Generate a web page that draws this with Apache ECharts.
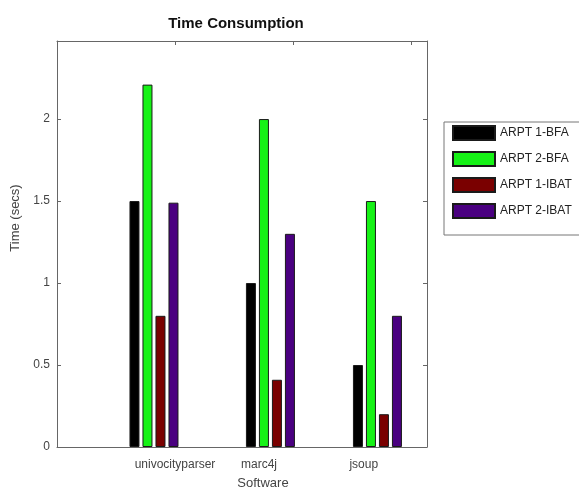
<!DOCTYPE html>
<html>
<head>
<meta charset="utf-8">
<script src="https://cdn.jsdelivr.net/npm/echarts@6/dist/echarts.min.js"></script>
<style>html,body{margin:0;padding:0;background:#fff}#c{width:579px;height:493px}</style>
</head>
<body>
<div id="c"></div>
<script>
const categories = ['univocityparser', 'marc4j', 'jsoup'];
const groupX = [0.822, 1.809, 2.716];
const labelX = [1.0, 1.712, 2.6];
const topTicks = [1, 2, 3];
const seriesNames = ['ARPT 1-BFA', 'ARPT 2-BFA', 'ARPT 1-IBAT', 'ARPT 2-IBAT'];
const arpt1BFA = [1.5, 1.0, 0.5];
const arpt2BFA = [2.21, 2.0, 1.5];
const arpt1IBAT = [0.8, 0.41, 0.2];
const arpt2IBAT = [1.49, 1.3, 0.8];
const yTickLabels = ['0', '0.5', '1', '1.5', '2'];

const values = [arpt1BFA, arpt2BFA, arpt1IBAT, arpt2IBAT];
const colors = ['#000000', '#16f216', '#7a0000', '#4a0080'];
const font = 'Liberation Sans, Arial, sans-serif';
const axisCol = '#666';

const chart = echarts.init(document.getElementById('c'));
chart.setOption({
  backgroundColor: '#fff',
  animation: false,
  title: {
    text: 'Time Consumption',
    left: 231, top: 11, textAlign: 'center',
    textStyle: {fontSize: 15, fontWeight: 'bold', color: '#111', fontFamily: font}
  },
  legend: {
    orient: 'vertical', left: 444, top: 122,
    padding: [3, 60, 16, 8],
    borderColor: '#777', borderWidth: 1,
    itemWidth: 42, itemHeight: 14, itemGap: 10,
    icon: 'rect',
    textStyle: {fontSize: 12, color: '#222', fontFamily: font},
    data: seriesNames
  },
  grid: {left: 57, right: 152, top: 41, bottom: 46, outerBoundsMode: 'none', containLabel: false},
  xAxis: [{
    type: 'value', min: 0, max: 3.136, position: 'bottom',
    name: 'Software', nameLocation: 'middle', nameGap: 30,
    nameTextStyle: {fontSize: 13, color: '#444', fontFamily: font, padding: [0, 0, 0, 42]},
    axisLine: {show: true, onZero: false, lineStyle: {color: axisCol}},
    axisTick: {show: false},
    splitLine: {show: false},
    axisLabel: {
      customValues: labelX, margin: 12,
      fontSize: 12, color: '#444', fontFamily: font,
      formatter: function (v) { const i = labelX.indexOf(v); return i >= 0 ? categories[i] : ''; }
    }
  }, {
    type: 'value', min: 0, max: 3.136, position: 'top',
    axisLine: {show: true, onZero: false, lineStyle: {color: axisCol}},
    axisTick: {show: true, inside: true, length: 4, customValues: topTicks, lineStyle: {color: axisCol}},
    axisLabel: {show: false},
    splitLine: {show: false}
  }],
  yAxis: [{
    type: 'value', min: 0, max: 2.476, interval: 0.5, position: 'left',
    name: 'Time (secs)', nameLocation: 'middle', nameGap: 21,
    nameTextStyle: {fontSize: 13, color: '#444', fontFamily: font, padding: [12, 0, 0, 52]},
    axisLine: {show: true, onZero: false, lineStyle: {color: axisCol}},
    axisTick: {show: true, inside: true, length: 4, lineStyle: {color: axisCol}},
    splitLine: {show: false},
    axisLabel: {
      showMaxLabel: false, margin: 7,
      fontSize: 12, color: '#444', fontFamily: font,
      formatter: function (v) { const i = Math.round(v * 2); return (Math.abs(v * 2 - i) < 1e-6 && i < yTickLabels.length) ? yTickLabels[i] : ''; }
    }
  }, {
    type: 'value', min: 0, max: 2.476, interval: 0.5, position: 'right',
    axisLine: {show: true, onZero: false, lineStyle: {color: axisCol}},
    axisTick: {show: true, inside: true, length: 4, lineStyle: {color: axisCol}},
    axisLabel: {show: false},
    splitLine: {show: false}
  }],
  series: seriesNames.map(function (name, k) {
    return {
      name: name, type: 'bar', xAxisIndex: 0, yAxisIndex: 0,
      barWidth: 10, barGap: '30%',
      itemStyle: {color: colors[k], borderColor: '#1a1a1a', borderWidth: 1},
      data: values[k].map(function (v, i) { return [groupX[i], v]; })
    };
  })
});
</script>
</body>
</html>
